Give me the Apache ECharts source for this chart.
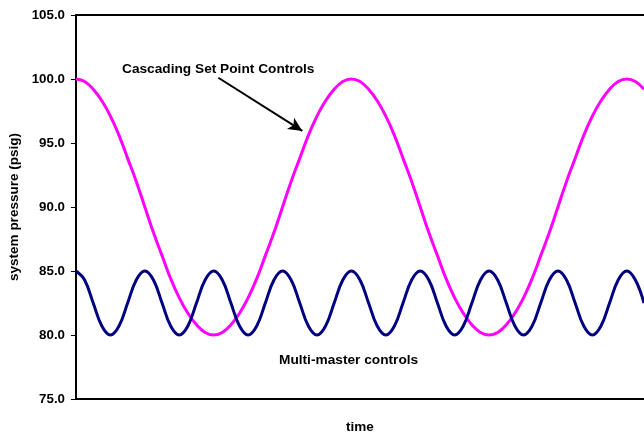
<!DOCTYPE html>
<html>
<head>
<meta charset="utf-8">
<script src="https://cdn.jsdelivr.net/npm/echarts@6/dist/echarts.min.js"></script>
<style>html,body{margin:0;padding:0;background:#fff;}#c{width:644px;height:435px;}</style>
</head>
<body>
<div id="c"></div>
<script>
var time = [0,0.5,1,1.5,2,2.5,3,3.5,4,4.5,5,5.5,6,6.5,7,7.5,8,8.5,9,9.5,10,10.5,11,11.5,12,12.5,13,13.5,14,14.5,15,15.5,16,16.5,17,17.5,18,18.5,19,19.5,20,20.5,21,21.5,22,22.5,23,23.5,24,24.5,25,25.5,26,26.5,27,27.5,28,28.5,29,29.5,30,30.5,31,31.5,32,32.5,33];
var multiMaster = [85,84.3,82.5,80.7,80,80.7,82.5,84.3,
  85,84.3,82.5,80.7,80,80.7,82.5,84.3,
  85,84.3,82.5,80.7,80,80.7,82.5,84.3,
  85,84.3,82.5,80.7,80,80.7,82.5,84.3,
  85,84.3,82.5,80.7,80,80.7,82.5,84.3,
  85,84.3,82.5,80.7,80,80.7,82.5,84.3,
  85,84.3,82.5,80.7,80,80.7,82.5,84.3,
  85,84.3,82.5,80.7,80,80.7,82.5,84.3,
  85,84.3,82.5];
var cascading = [100,99.8,99.2,98.3,97.1,95.6,93.8,92.0,90,88.0,86.2,84.4,82.9,81.7,80.8,80.2,80,80.2,80.8,81.7,82.9,84.4,86.2,88.0,90,92.0,93.8,95.6,97.1,98.3,99.2,99.8,
  100,99.8,99.2,98.3,97.1,95.6,93.8,92.0,90,88.0,86.2,84.4,82.9,81.7,80.8,80.2,80,80.2,80.8,81.7,82.9,84.4,86.2,88.0,90,92.0,93.8,95.6,97.1,98.3,99.2,99.8,
  100,99.8,99.2];
var yTicks = [75,80,85,90,95,100,105];
var arrowFrom = [8.27, 100.1];
var arrowTo = [13.15, 95.94];

function pairs(xs, ys){ return xs.map(function(x,i){ return [x, ys[i]]; }); }
var font = 'Arial, "Liberation Sans", sans-serif';
var chart = echarts.init(document.getElementById('c'), null, {renderer:'canvas'});
chart.setOption({
  animation:false,
  backgroundColor:'#fff',
  grid:{left:76, right:0, top:15, bottom:36, containLabel:false, outerBoundsMode:'none'},
  xAxis:[{
    type:'value', min:time[0], max:time[time.length-1],
    name:'time', nameLocation:'middle', nameGap:21,
    nameTextStyle:{fontFamily:font, fontWeight:'bold', fontSize:13.5, color:'#000'},
    axisLine:{show:true, onZero:false, lineStyle:{color:'#000', width:2}},
    axisTick:{show:false}, axisLabel:{show:false}, splitLine:{show:false}
  },{
    type:'value', position:'top', min:time[0], max:time[time.length-1],
    axisLine:{show:true, onZero:false, lineStyle:{color:'#000', width:2}},
    axisTick:{show:false}, axisLabel:{show:false}, splitLine:{show:false}
  }],
  yAxis:{
    type:'value', min:yTicks[0], max:yTicks[yTicks.length-1], interval:5,
    name:'system pressure (psig)', nameLocation:'middle', nameGap:55,
    nameTextStyle:{fontFamily:font, fontWeight:'bold', fontSize:13.5, color:'#000'},
    axisLine:{show:true, lineStyle:{color:'#000', width:2}},
    axisTick:{show:true, length:5, lineStyle:{color:'#000', width:1}},
    axisLabel:{margin:11, fontFamily:font, fontWeight:'bold', fontSize:13.3, color:'#000',
      formatter:function(v){ return v.toFixed(1); }},
    splitLine:{show:false}
  },
  series:[{
    name:'Cascading Set Point Controls', type:'line', data:pairs(time, cascading),
    smooth:0.4, showSymbol:false, symbol:'none',
    lineStyle:{color:'#FF00FF', width:3}, itemStyle:{color:'#FF00FF'},
    markLine:{
      silent:true, symbol:['none','arrow'], symbolSize:[10,14],
      label:{show:false},
      lineStyle:{color:'#000', width:2, type:'solid'},
      data:[[{coord:arrowFrom},{coord:arrowTo}]]
    }
  },{
    name:'Multi-master controls', type:'line', data:pairs(time, multiMaster),
    smooth:0.4, showSymbol:false, symbol:'none',
    lineStyle:{color:'#000080', width:3}, itemStyle:{color:'#000080'}
  }],
  graphic:[
    {type:'text', left:122, top:62, style:{text:'Cascading Set Point Controls', font:'bold 13.7px '+font, fill:'#000'}},
    {type:'text', left:279, top:353, style:{text:'Multi-master controls', font:'bold 13.7px '+font, fill:'#000'}}
  ]
});
</script>
</body>
</html>
